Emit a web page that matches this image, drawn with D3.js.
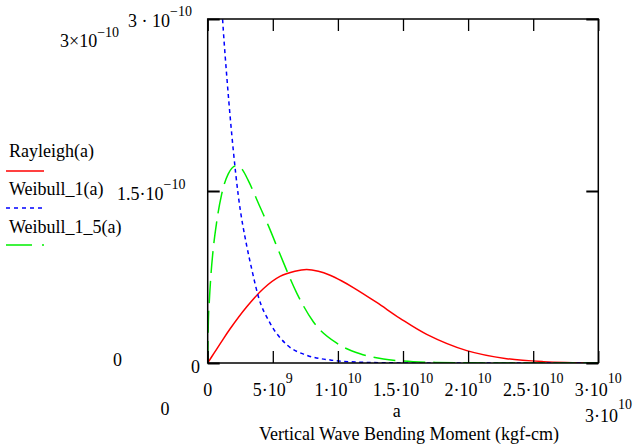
<!DOCTYPE html>
<html><head><meta charset="utf-8">
<script src="https://cdn.jsdelivr.net/npm/d3@7/dist/d3.min.js"></script>
</head>
<body style="margin:0">
<svg id="chart" width="634" height="447"></svg>
<script>
// ---- data ----
const xTicks = [0, 5e9, 1e10, 1.5e10, 2e10, 2.5e10, 3e10];
const xTickLabels = ["0", "5·10^9", "1·10^10", "1.5·10^10", "2·10^10", "2.5·10^10", "3·10^10"];
const yTicks = [0, 1.5e-10, 3e-10];

const rayleighA = [0, 0.5e9, 1.0e9, 1.71e9, 3.0e9, 4.27e9, 5.55e9, 6.7e9, 7.6e9, 8.5e9, 9.4e9, 10.3e9, 11.18e9, 12.98e9, 14.77e9, 16.82e9, 19.9e9, 22.96e9, 25.8e9, 30e9];
const rayleighV = [0, 0.088e-10, 0.175e-10, 0.296e-10, 0.49e-10, 0.648e-10, 0.755e-10, 0.80e-10, 0.815e-10, 0.80e-10, 0.765e-10, 0.715e-10, 0.658e-10, 0.528e-10, 0.39e-10, 0.25e-10, 0.108e-10, 0.038e-10, 0.012e-10, 0.001e-10];

const weibull1A = [1.0e9, 1.2e9, 1.5e9, 1.97e9, 2.35e9, 3.0e9, 3.38e9, 3.89e9, 4.78e9, 6.07e9, 7.6e9, 9.5e9, 12e9, 15e9, 20e9, 25e9, 30e9];
const weibull1V = [3.26e-10, 2.90e-10, 2.45e-10, 1.85e-10, 1.46e-10, 1.02e-10, 0.82e-10, 0.58e-10, 0.35e-10, 0.16e-10, 0.068e-10, 0.025e-10, 0.006e-10, 0.001e-10, 0, 0, 0];

const weibull15A = [0, 0.05e9, 0.12e9, 0.25e9, 0.43e9, 0.69e9, 1.07e9, 1.58e9, 2.2e9, 2.7e9, 3.12e9, 4.02e9, 4.65e9, 5.55e9, 6.84e9, 8.11e9, 9.91e9, 11.7e9, 13.5e9, 15e9, 17.5e9, 20e9, 25e9, 30e9];
const weibull15V = [0, 0.36e-10, 0.53e-10, 0.77e-10, 1.0e-10, 1.23e-10, 1.47e-10, 1.65e-10, 1.72e-10, 1.68e-10, 1.59e-10, 1.36e-10, 1.2e-10, 0.95e-10, 0.61e-10, 0.36e-10, 0.173e-10, 0.08e-10, 0.035e-10, 0.017e-10, 0.005e-10, 0.0015e-10, 0, 0];

const legendNames = ["Rayleigh(a)", "Weibull_1(a)", "Weibull_1_5(a)"];

// ---- drawing ----
const svg = d3.select("#chart");
const L = 207.7, R = 598.3, T = 19, B = 363;
const x = d3.scaleLinear().domain([0, 3e10]).range([L, R]);
const y = d3.scaleLinear().domain([0, 3e-10]).range([B, T]);

function sci(px, py, label, anchor, opts) {
  opts = opts || {};
  const size = opts.size || 18, esize = opts.esize || 14, rise = opts.rise || 12;
  const parts = label.split("^");
  const t = svg.append("text").attr("x", px).attr("y", py)
    .attr("text-anchor", anchor).attr("font-family", "Liberation Serif")
    .attr("font-size", size).attr("fill", "#000");
  if (parts.length > 1) {
    t.append("tspan").text(parts[0]);
    t.append("tspan").attr("dy", -rise).attr("font-size", esize).text(parts[1]);
  } else {
    t.text(label);
  }
  return t;
}

// curves (clipped to the plot box)
svg.append("clipPath").attr("id", "plotclip")
  .append("rect").attr("x", L).attr("y", T).attr("width", R - L).attr("height", B - T);
const series = [
  {a: rayleighA, v: rayleighV, color: "#ff0000", dash: null, curve: d3.curveCatmullRom.alpha(0.5)},
  {a: weibull1A, v: weibull1V, color: "#0000ff", dash: "4,3.5", curve: d3.curveMonotoneX},
  {a: weibull15A, v: weibull15V, color: "#00f000", dash: "22,8", curve: d3.curveMonotoneX}
];
const cg = svg.append("g").attr("clip-path", "url(#plotclip)");
series.forEach(s => {
  const line = d3.line().x(d => x(d[0])).y(d => y(d[1])).curve(s.curve);
  cg.append("path").datum(s.a.map((a, i) => [a, s.v[i]]))
    .attr("d", line).attr("fill", "none").attr("stroke", s.color)
    .attr("stroke-width", 1.5).attr("stroke-dasharray", s.dash);
});

// axes ticks (inward)
function clean(g) { g.select(".domain").remove(); g.selectAll("text").remove(); g.selectAll("line").attr("stroke", "#000"); }
svg.append("g").attr("transform", `translate(0,${B})`)
  .call(d3.axisBottom(x).tickValues(xTicks).tickSize(-12).tickFormat(""))
  .call(clean).selectAll("line").attr("stroke-width", 1.3);
svg.append("g").attr("transform", `translate(0,${T})`)
  .call(d3.axisTop(x).tickValues(xTicks).tickSize(-12).tickFormat(""))
  .call(clean).selectAll("line").attr("stroke-width", 1.3);
svg.append("g").attr("transform", `translate(${L},0)`)
  .call(d3.axisLeft(y).tickValues(yTicks).tickSize(-12).tickFormat(""))
  .call(clean).selectAll("line").attr("stroke-width", 2);
svg.append("g").attr("transform", `translate(${R},0)`)
  .call(d3.axisRight(y).tickValues(yTicks).tickSize(-12).tickFormat(""))
  .call(clean).selectAll("line").attr("stroke-width", 2);

// frame
svg.append("rect").attr("x", L).attr("y", T).attr("width", R - L).attr("height", B - T)
  .attr("fill", "none").attr("stroke", "#000").attr("stroke-width", 1.5);

// x tick labels
xTicks.forEach((v, i) => {
  sci(x(v), 396, xTickLabels[i], "middle", {rise: 13});
});

// y labels and loose labels
sci(128, 27, "3 · 10^\u221210", "start", {rise: 11.5});
sci(60, 46.7, "3×10^\u221210", "start", {rise: 10});
sci(117, 200, "1.5·10^\u221210", "start", {rise: 11});
sci(195.5, 373, "0", "middle");
sci(117.5, 366, "0", "middle");
sci(165, 415, "0", "middle");
sci(396.7, 417, "a", "middle");
sci(585, 421.7, "3·10^10", "start", {rise: 13});
sci(409, 440, "Vertical Wave Bending Moment (kgf-cm)", "middle", {size: 18});

// legend
const legY = [157, 195, 233];
const legLineY = [171, 208, 245];
const legDash = [null, "4,4", "26,10"];
legendNames.forEach((n, i) => {
  sci(9, legY[i], n, "start", {size: 18});
  svg.append("line").attr("x1", 6).attr("x2", 44).attr("y1", legLineY[i]).attr("y2", legLineY[i])
    .attr("stroke", series[i].color).attr("stroke-width", 1.5).attr("stroke-dasharray", legDash[i]);
});
</script>
</body></html>
